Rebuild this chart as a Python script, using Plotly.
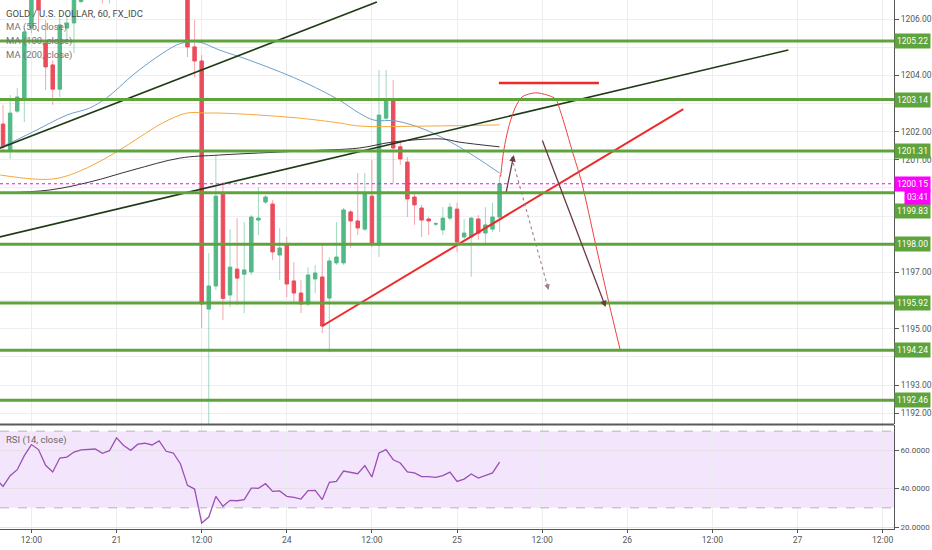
import plotly.graph_objects as go

# hourly bars; bar 0 = 20 Sep 12:00 (TradingView skips the weekend hours)
bar_start = -4
opens = [1202.27, 1201.35, 1202.73, 1203.19, 1205.68, 1207.00, 1205.15, 1204.37, 1203.51, 1205.68,
         1205.86, 1206.62, 1206.90, 1207.40, 1207.80, 1207.00, 1207.50, 1208.10, 1208.40, 1208.20,
         1208.00, 1208.30, 1208.50, 1208.10, 1207.60, 1207.80, 1207.50, 1205.01, 1204.51, 1195.70,
         1196.52, 1199.78, 1196.20, 1197.12, 1196.94, 1197.02, 1198.86, 1199.50, 1199.43, 1197.62,
         1198.01, 1196.70, 1196.27, 1195.88, 1196.77, 1196.84, 1196.09, 1197.34, 1197.34, 1199.15,
         1198.83, 1198.54, 1199.71, 1197.98, 1202.48, 1203.16, 1201.46, 1200.92, 1199.68, 1199.29,
         1198.90, 1198.72, 1198.51, 1198.93, 1199.25, 1198.26, 1198.26, 1198.90, 1198.40, 1198.54,
         1198.97]
highs = [1202.95, 1203.30, 1203.55, 1205.68, 1207.20, 1207.30, 1205.96, 1204.54, 1206.04, 1206.14,
         1207.20, 1207.00, 1207.60, 1208.00, 1208.20, 1207.60, 1208.30, 1208.60, 1208.70, 1208.50,
         1208.40, 1208.80, 1208.70, 1208.30, 1208.00, 1208.10, 1207.70, 1205.96, 1204.72, 1197.69,
         1201.17, 1200.21, 1198.54, 1198.93, 1198.79, 1199.04, 1200.03, 1199.75, 1199.57, 1198.58,
         1198.26, 1197.37, 1196.73, 1197.19, 1197.27, 1197.98, 1197.55, 1198.79, 1199.29, 1199.22,
         1200.53, 1200.53, 1200.99, 1204.19, 1204.19, 1203.83, 1201.70, 1201.10, 1199.82, 1199.40,
         1198.97, 1198.79, 1199.32, 1199.47, 1199.47, 1198.90, 1198.97, 1199.04, 1199.32, 1199.47,
         1200.46]
lows = [1201.35, 1201.03, 1202.66, 1202.34, 1205.50, 1205.54, 1203.48, 1202.95, 1203.23, 1205.25,
        1204.79, 1206.55, 1206.70, 1207.10, 1206.55, 1206.55, 1207.20, 1207.80, 1208.00, 1207.80,
        1207.60, 1208.00, 1207.90, 1207.40, 1207.20, 1207.30, 1204.65, 1203.94, 1195.03, 1191.40,
        1196.38, 1195.31, 1195.77, 1195.84, 1195.56, 1196.91, 1198.33, 1199.43, 1197.44, 1196.73,
        1196.13, 1195.91, 1195.56, 1195.81, 1196.27, 1194.85, 1194.17, 1197.27, 1197.27, 1197.87,
        1198.33, 1198.47, 1197.90, 1197.55, 1202.41, 1200.17, 1200.82, 1198.97, 1198.69, 1198.26,
        1198.33, 1198.65, 1198.33, 1198.86, 1197.73, 1198.19, 1196.84, 1198.15, 1197.98, 1198.44,
        1198.44]
closes = [1201.46, 1202.66, 1203.23, 1205.54, 1206.90, 1206.32, 1204.30, 1203.51, 1205.79, 1205.86,
          1206.90, 1206.90, 1207.40, 1207.80, 1207.00, 1207.50, 1208.10, 1208.40, 1208.20, 1208.00,
          1208.30, 1208.50, 1208.10, 1207.60, 1207.80, 1207.50, 1205.01, 1204.51, 1195.88, 1196.52,
          1199.71, 1196.08, 1197.19, 1196.80, 1197.09, 1198.97, 1198.93, 1199.68, 1197.73, 1197.87,
          1196.59, 1196.27, 1195.88, 1196.91, 1196.98, 1195.10, 1197.41, 1197.55, 1199.22, 1198.83,
          1198.58, 1199.82, 1198.01, 1202.59, 1203.16, 1201.42, 1201.03, 1199.61, 1199.40, 1198.86,
          1198.83, 1198.73, 1198.93, 1199.32, 1198.08, 1198.40, 1198.93, 1198.40, 1198.69, 1198.97,
          1200.15]

# RSI (14), starts one bar left of the first drawn candle
rsi_start = -5
rsi = [45.0, 41.2, 46.8, 49.9, 57.2, 63.0, 60.4, 52.2, 48.7, 56.0,
       56.5, 59.1, 60.2, 60.4, 60.7, 58.4, 59.8, 66.5, 62.5, 60.0,
       63.2, 63.7, 62.8, 64.9, 59.5, 58.6, 53.0, 41.7, 39.8, 22.1,
       25.2, 36.0, 30.8, 33.9, 33.7, 34.3, 40.3, 40.2, 42.6, 38.6,
       38.8, 36.0, 35.5, 34.6, 39.0, 39.1, 34.3, 43.3, 43.8, 49.2,
       48.3, 47.8, 52.0, 46.1, 58.6, 60.4, 55.1, 53.4, 48.8, 48.2,
       46.3, 46.3, 45.9, 46.8, 48.6, 43.8, 45.0, 47.7, 45.5, 46.8,
       48.2, 53.9]

# moving averages at these bar positions
ma55_x = [-4.4, -3.0, 0.2, 5.0, 8.2, 10.6, 14.3, 17.7, 20.5, 21.9, 23.7, 26.5, 30.7, 37.8, 43.4,
          46.2, 48.3, 51.4, 55.6, 60.3, 66.0]
ma55_y = [1201.45, 1201.60, 1201.99, 1202.59, 1202.84, 1203.20, 1204.01, 1204.65, 1205.08, 1205.18,
          1205.18, 1204.90, 1204.54, 1203.83, 1203.12, 1202.66, 1202.41, 1202.38, 1202.06, 1201.46,
          1200.53]
ma100_x = [-4.4, 0.2, 3.0, 5.4, 8.7, 12.0, 15.3, 18.5, 21.9, 24.7, 26.5, 32.1, 37.8, 43.4, 46.2,
           56.1, 66.0]
ma100_y = [1200.46, 1200.32, 1200.32, 1200.46, 1200.82, 1201.28, 1201.81, 1202.31, 1202.66, 1202.66,
           1202.66, 1202.59, 1202.48, 1202.31, 1202.20, 1202.20, 1202.24]
ma200_x = [-4.4, 2.6, 8.2, 14.3, 20.9, 26.5, 37.8, 46.2, 50.9, 57.9, 60.3, 66.0]
ma200_y = [1199.82, 1199.93, 1200.21, 1200.64, 1201.06, 1201.17, 1201.31, 1201.42, 1201.63, 1201.74,
           1201.63, 1201.46]

# horizontal support / resistance levels
levels = [1205.22, 1203.14, 1201.31, 1199.83, 1198.00, 1195.92, 1194.24, 1192.46]
last_price = 1200.15
countdown = "03:41"

# drawings (bar, price)
upper_channel_x, upper_channel_y = [-4.5, 48.7], [1201.41, 1206.60]
lower_channel_x, lower_channel_y = [-4.5, 106.7], [1198.26, 1204.90]
red_trend_x, red_trend_y = [41.0, 91.9], [1195.10, 1202.80]
red_cap_x, red_cap_y = [65.9, 80.0], [1203.73, 1203.73]
arc_x = [66.14, 66.6, 67.3, 68.25, 69.2, 71.07, 72.7, 73.9, 74.6, 75.3, 76.2, 77.6, 79.5, 81.4, 83.0]
arc_y = [1200.40, 1201.35, 1202.18, 1202.88, 1203.24, 1203.38, 1203.30, 1203.16, 1202.70, 1202.13,
         1201.35, 1200.17, 1198.04, 1195.93, 1194.25]
arrow_down = [(71.95, 1201.74), (80.95, 1195.77)]
arrow_dotted = [(67.7, 1201.10), (72.9, 1196.38)]
arrow_up = [(66.9, 1199.82), (68.0, 1201.17)]

tick_bars = [0, 12, 24, 36, 48, 60, 72, 84, 96, 108, 120]
tick_labels = ["12:00", "21", "12:00", "24", "12:00", "25", "12:00", "26", "12:00", "27", "12:00"]
price_ticks = list(range(1192, 1207))
price_ticks_shown = [1192, 1193, 1195, 1197, 1201, 1202, 1204, 1206]
rsi_ticks = [20, 40, 60]

UP = '#53b987'
DOWN = '#eb4d5c'
LEVEL = '#5fa33c'
MAGENTA = '#ff00ff'
FONT = 'Roboto'

bars = list(range(bar_start, bar_start + len(opens)))

fig = go.Figure()

# wicks (paler than the bodies)
for rising, colour in ((True, 'rgba(83,185,135,0.55)'), (False, 'rgba(235,77,92,0.5)')):
    wx, wy = [], []
    for b, o, h, l, c in zip(bars, opens, highs, lows, closes):
        if (c >= o) == rising:
            wx += [b, b, None]
            wy += [l, h, None]
    fig.add_trace(go.Scatter(x=wx, y=wy, mode='lines', line=dict(color=colour, width=1),
                             hoverinfo='skip', showlegend=False))

# bodies
fig.add_trace(go.Candlestick(
    x=bars, open=opens, close=closes,
    high=[max(o, c) for o, c in zip(opens, closes)],
    low=[min(o, c) for o, c in zip(opens, closes)],
    increasing=dict(line=dict(color=UP, width=1), fillcolor=UP),
    decreasing=dict(line=dict(color=DOWN, width=1), fillcolor=DOWN),
    whiskerwidth=0, hoverinfo='skip', showlegend=False))

for mx, my, colour in ((ma55_x, ma55_y, '#6d9fc9'), (ma100_x, ma100_y, '#f6a83c'),
                       (ma200_x, ma200_y, '#3d3039')):
    fig.add_trace(go.Scatter(x=mx, y=my, mode='lines', line=dict(color=colour, width=1, shape='spline'),
                             hoverinfo='skip', showlegend=False))

# trend lines and the projected path
for lx, ly, colour, w in ((upper_channel_x, upper_channel_y, '#1e3a14', 1.6),
                          (lower_channel_x, lower_channel_y, '#1e3a14', 1.6),
                          (red_trend_x, red_trend_y, '#ee2a2a', 2),
                          (red_cap_x, red_cap_y, '#ee2a2a', 2.5)):
    fig.add_trace(go.Scatter(x=lx, y=ly, mode='lines', line=dict(color=colour, width=w),
                             hoverinfo='skip', showlegend=False))
fig.add_trace(go.Scatter(x=arc_x, y=arc_y, mode='lines',
                         line=dict(color='#f04040', width=1, shape='spline', smoothing=0.8),
                         hoverinfo='skip', showlegend=False))
fig.add_trace(go.Scatter(x=[p[0] for p in arrow_dotted], y=[p[1] for p in arrow_dotted], mode='lines',
                         line=dict(color='#a07f86', width=1.1, dash='dot'),
                         hoverinfo='skip', showlegend=False))

# RSI pane
fig.add_trace(go.Scatter(x=list(range(rsi_start, rsi_start + len(rsi))), y=rsi, mode='lines',
                         line=dict(color='#9c4fb5', width=1.3), xaxis='x2', yaxis='y2',
                         hoverinfo='skip', showlegend=False))

shapes = []
for lv in levels:
    shapes.append(dict(type='line', xref='x domain', yref='y', x0=0, x1=1, y0=lv, y1=lv,
                       line=dict(color=LEVEL, width=3)))
shapes.append(dict(type='line', xref='x domain', yref='y', x0=0, x1=1, y0=last_price, y1=last_price,
                   line=dict(color=MAGENTA, width=1.2, dash='dot')))
shapes.append(dict(type='rect', xref='x2 domain', yref='y2', x0=0, x1=1, y0=30, y1=70,
                   fillcolor='#f3e6fc', line=dict(width=0), layer='below'))
for lv in (30, 70):
    shapes.append(dict(type='line', xref='x2 domain', yref='y2', x0=0, x1=1, y0=lv, y1=lv,
                       line=dict(color='#bcaec4', width=1, dash='dash')))
shapes.append(dict(type='line', xref='paper', yref='paper', x0=0, x1=1, y0=0.1975, y1=0.1975,
                   line=dict(color='#5a5a5a', width=2)))

annotations = []
label_shift = {1199.83: -18}
for lv in levels:
    annotations.append(dict(xref='paper', yref='y', x=1, y=lv, xanchor='left', yanchor='middle',
                            yshift=label_shift.get(lv, 0), text=f"{lv:.2f}", showarrow=False,
                            font=dict(family=FONT, size=8.5, color='white'),
                            bgcolor=LEVEL, borderpad=2))
annotations.append(dict(xref='paper', yref='y', x=1, y=last_price, xanchor='left', yanchor='middle',
                        text=f"{last_price:.2f}", showarrow=False,
                        font=dict(family=FONT, size=8.5, color='white'), bgcolor=MAGENTA, borderpad=2))
annotations.append(dict(xref='paper', yref='y', x=1, y=last_price, xanchor='left', yanchor='middle',
                        xshift=10, yshift=-13, text=countdown, showarrow=False,
                        font=dict(family=FONT, size=8.5, color='white'), bgcolor=MAGENTA, borderpad=2))

for (tx, ty), (hx, hy), colour in ((arrow_down[0], arrow_down[1], '#6a3b40'),
                                   (arrow_up[0], arrow_up[1], '#6a3b40')):
    annotations.append(dict(x=hx, y=hy, ax=tx, ay=ty, xref='x', yref='y', axref='x', ayref='y',
                            showarrow=True, arrowhead=2, arrowsize=1, arrowwidth=1.3,
                            arrowcolor=colour, text=''))
(tx, ty), (hx, hy) = arrow_dotted
annotations.append(dict(x=hx, y=hy, ax=hx - (hx - tx) * 0.06, ay=hy - (hy - ty) * 0.06,
                        xref='x', yref='y', axref='x', ayref='y', showarrow=True, arrowhead=2,
                        arrowsize=1, arrowwidth=1.1, arrowcolor='#a07f86', text=''))

annotations.append(dict(xref='paper', yref='paper', x=0, y=0.9748, xanchor='left', yanchor='middle',
                        xshift=4, text='GOLD / U.S. DOLLAR, 60, FX_IDC', showarrow=False,
                        font=dict(family=FONT, size=9.5, color='#4a4a4a')))
for k, name in enumerate(['MA (55, close)', 'MA (100, close)', 'MA (200, close)']):
    annotations.append(dict(xref='paper', yref='paper', x=0, y=0.9493 - k * 0.0262, xanchor='left',
                            yanchor='middle', xshift=4, text=name, showarrow=False,
                            font=dict(family=FONT, size=9.5, color='#767676')))
annotations.append(dict(xref='paper', yref='paper', x=0, y=0.168, xanchor='left', yanchor='middle',
                        xshift=4, text='RSI (14, close)', showarrow=False,
                        font=dict(family=FONT, size=9.5, color='#666666')))

x_range = [-4.43, 121.6]
fig.update_layout(
    width=932, height=550,
    margin=dict(l=0, r=36, t=0, b=21),
    paper_bgcolor='white', plot_bgcolor='white',
    hovermode=False,
    font=dict(family=FONT, size=9, color='#555555'),
    shapes=shapes, annotations=annotations,
    xaxis=dict(domain=[0, 1], range=x_range, anchor='y', tickvals=tick_bars, showticklabels=False,
               ticks='', showgrid=True, gridcolor='#ececf1', zeroline=False, rangeslider=dict(visible=False),
               fixedrange=True),
    yaxis=dict(domain=[0.1985, 1], range=[1191.62, 1206.675], side='right', anchor='x',
               tickvals=price_ticks,
               ticktext=[f"{t:.2f}" if t in price_ticks_shown else '' for t in price_ticks],
               ticks='outside', ticklen=4, tickcolor='#555555', showline=True, linecolor='#555555',
               showgrid=True, gridcolor='#efeff3', zeroline=False,
               tickfont=dict(family=FONT, size=8.5, color='#555555')),
    xaxis2=dict(domain=[0, 1], range=x_range, anchor='y2', matches='x', tickvals=tick_bars,
                ticktext=tick_labels, ticks='outside', ticklen=3, tickcolor='#555555',
                showline=True, linecolor='#555555', showgrid=True, gridcolor='#ececf1',
                zeroline=False, tickfont=dict(family=FONT, size=8.5, color='#555555')),
    yaxis2=dict(domain=[0, 0.196], range=[18.96, 73.05], side='right', anchor='x2',
                tickvals=rsi_ticks, ticktext=[f"{t:.4f}" for t in rsi_ticks],
                ticks='outside', ticklen=4, tickcolor='#555555', showline=True, linecolor='#555555',
                showgrid=True, gridcolor='#e6e0ea', zeroline=False,
                tickfont=dict(family=FONT, size=8, color='#555555')),
)

fig.write_html("out.html", config={'displayModeBar': False},
               post_script="document.body.style.margin='0';")
